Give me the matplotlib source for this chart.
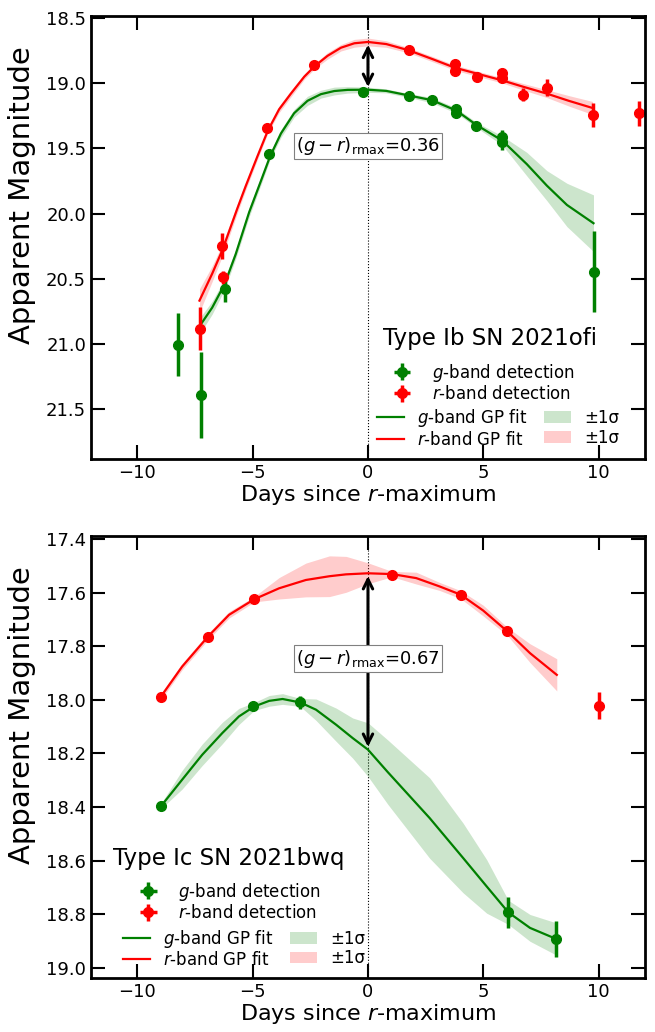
import numpy as np
import matplotlib
matplotlib.use("Agg")
import matplotlib.pyplot as plt

# ---- SN 2021ofi (Type Ib) ----
ofi_g_day = [-8.22, -7.22, -6.20, -4.28, -0.23, 1.77, 2.77, 3.83, 3.83, 4.70, 5.82, 5.82, 9.77]
ofi_g_mag = [21.003, 21.39, 20.58, 19.543, 19.064, 19.097, 19.13, 19.20, 19.225, 19.33, 19.41, 19.45, 20.443]
ofi_g_err = [0.24, 0.33, 0.10, 0.03, 0.015, 0.02, 0.02, 0.03, 0.03, 0.02, 0.05, 0.06, 0.31]

ofi_r_day = [-7.27, -6.31, -6.28, -4.36, -2.33, 1.77, 3.76, 3.76, 4.73, 5.79, 5.79, 6.70, 7.75, 9.73, 11.75]
ofi_r_mag = [20.88, 20.246, 20.486, 19.347, 18.862, 18.748, 18.85, 18.906, 18.95, 18.92, 18.957, 19.09, 19.034, 19.242, 19.232]
ofi_r_err = [0.166, 0.10, 0.05, 0.02, 0.015, 0.02, 0.03, 0.03, 0.02, 0.03, 0.025, 0.05, 0.066, 0.09, 0.095]

ofi_gfit_day = [-7.25, -6.75, -6.21, -5.73, -5.15, -4.64, -4.24, -3.77, -3.20, -2.62, -2.04, -1.46, -0.88, 0.00, 0.79, 1.77, 2.77, 3.83, 4.70, 5.82, 6.88, 7.75, 8.62, 9.77]
ofi_gfit_mag = [20.85, 20.72, 20.54, 20.31, 19.99, 19.75, 19.56, 19.385, 19.23, 19.135, 19.084, 19.06, 19.051, 19.05, 19.059, 19.094, 19.13, 19.21, 19.32, 19.44, 19.62, 19.785, 19.933, 20.073]
ofi_gfit_sig = [0.06, 0.05, 0.04, 0.035, 0.035, 0.03, 0.025, 0.03, 0.03, 0.035, 0.03, 0.03, 0.025, 0.02, 0.015, 0.015, 0.02, 0.02, 0.02, 0.035, 0.09, 0.115, 0.166, 0.217]

ofi_rfit_day = [-7.30, -6.75, -6.31, -5.66, -5.30, -4.80, -4.33, -3.85, -3.34, -2.76, -2.30, -1.75, -1.17, -0.59, 0.00, 0.79, 1.77, 2.82, 3.76, 4.73, 5.79, 6.70, 7.75, 8.70, 9.73]
ofi_rfit_mag = [20.666, 20.46, 20.28, 19.96, 19.79, 19.565, 19.36, 19.20, 19.08, 18.95, 18.868, 18.79, 18.728, 18.694, 18.684, 18.70, 18.748, 18.817, 18.881, 18.927, 18.977, 19.026, 19.08, 19.135, 19.19]
ofi_rfit_sig = [0.09, 0.06, 0.045, 0.035, 0.03, 0.025, 0.02, 0.025, 0.025, 0.02, 0.02, 0.025, 0.025, 0.03, 0.03, 0.025, 0.02, 0.02, 0.02, 0.02, 0.02, 0.025, 0.03, 0.04, 0.05]

# ---- SN 2021bwq (Type Ic) ----
bwq_g_day = [-8.97, -4.96, -2.95, 6.08, 8.15]
bwq_g_mag = [18.398, 18.025, 18.01, 18.793, 18.892]
bwq_g_err = [0.012, 0.01, 0.026, 0.059, 0.066]

bwq_r_day = [-8.97, -6.93, -4.93, 1.04, 4.02, 6.04, 9.99]
bwq_r_mag = [17.988, 17.764, 17.625, 17.534, 17.608, 17.745, 18.022]
bwq_r_err = [0.01, 0.01, 0.01, 0.01, 0.01, 0.015, 0.051]

bwq_gfit_day = [-8.95, -8.05, -7.18, -6.31, -5.59, -4.93, -4.28, -3.70, -2.93, -2.25, -1.38, -0.66, 0.00, 0.86, 2.67, 4.12, 5.14, 6.08, 7.02, 8.15]
bwq_gfit_mag = [18.395, 18.298, 18.205, 18.124, 18.062, 18.025, 18.004, 17.997, 18.01, 18.037, 18.093, 18.143, 18.186, 18.27, 18.441, 18.59, 18.696, 18.793, 18.851, 18.892]
bwq_gfit_sig = [0.01, 0.035, 0.04, 0.04, 0.03, 0.015, 0.02, 0.02, 0.015, 0.04, 0.062, 0.075, 0.10, 0.12, 0.15, 0.13, 0.10, 0.045, 0.05, 0.06]

bwq_rfit_day = [-8.97, -8.05, -6.93, -6.02, -4.93, -3.85, -2.69, -1.67, -0.95, 0.00, 1.04, 2.09, 3.10, 4.02, 4.99, 6.04, 7.02, 8.18]
bwq_rfit_mag = [17.988, 17.876, 17.764, 17.683, 17.625, 17.584, 17.553, 17.539, 17.532, 17.528, 17.531, 17.546, 17.577, 17.608, 17.667, 17.745, 17.826, 17.907]
bwq_rfit_sig = [0.012, 0.012, 0.012, 0.012, 0.01, 0.04, 0.063, 0.076, 0.067, 0.039, 0.01, 0.022, 0.015, 0.015, 0.02, 0.015, 0.035, 0.06]

gr_ofi = "0.36"
gr_bwq = "0.67"


def panel(ax, gd, gm, ge, rd, rm, re_, gfd, gfm, gfs, rfd, rfm, rfs, name, gr, text_y,
          title_xy, leg1_xy, leg2_xy, ylim, yticks):
    gfd = np.array(gfd); gfm = np.array(gfm); gfs = np.array(gfs)
    rfd = np.array(rfd); rfm = np.array(rfm); rfs = np.array(rfs)
    ax.axvline(0, color='black', ls=':', lw=0.8, zorder=1)
    fg = ax.fill_between(gfd, gfm - gfs, gfm + gfs, color='green', alpha=0.2, lw=0)
    fr = ax.fill_between(rfd, rfm - rfs, rfm + rfs, color='red', alpha=0.2, lw=0)
    lg, = ax.plot(gfd, gfm, color='green', lw=1.6)
    lr, = ax.plot(rfd, rfm, color='red', lw=1.6)
    hg = ax.errorbar(gd, gm, yerr=ge, xerr=0, fmt='o', color='green', ms=7, elinewidth=2.5, capsize=0)
    hr = ax.errorbar(rd, rm, yerr=re_, xerr=0, fmt='o', color='red', ms=7, elinewidth=2.5, capsize=0)

    # colour at r-band maximum
    r0 = rfm[rfd == 0][0]
    g0 = gfm[gfd == 0][0]
    ax.annotate('', xy=(0, g0), xytext=(0, r0),
                arrowprops=dict(arrowstyle='<->', color='black', lw=2.2, mutation_scale=17), zorder=4)
    ax.text(0, text_y, r'$(g-r)_{\rm rmax}$=' + gr, ha='center', va='center', fontsize=13,
            bbox=dict(facecolor='white', edgecolor='gray', pad=1.5, lw=0.8), zorder=6)

    ax.text(title_xy[0], title_xy[1], name, transform=ax.transAxes, fontsize=16.5, ha='left', va='center')
    leg1 = ax.legend([hg, hr], ['$g$-band detection', '$r$-band detection'],
                     fontsize=12, frameon=False, loc='upper left',
                     bbox_to_anchor=leg1_xy, labelspacing=0.1, borderpad=0.4)
    ax.add_artist(leg1)
    ax.legend([lg, lr, fg, fr], ['$g$-band GP fit', '$r$-band GP fit', '±1σ', '±1σ'], ncol=2,
              fontsize=12, frameon=False, loc='upper left', bbox_to_anchor=leg2_xy,
              labelspacing=0.1, handlelength=1.6, handletextpad=0.8, columnspacing=1.0, borderpad=0.4)

    ax.set_xlim(-12, 12)
    ax.set_ylim(*ylim)
    ax.set_xticks([-10, -5, 0, 5, 10])
    ax.set_yticks(yticks)
    ax.tick_params(direction='in', top=True, right=True, length=10, width=1.5, labelsize=13)
    for s in ax.spines.values():
        s.set_linewidth(2)
    ax.set_xlabel('Days since $r$-maximum', fontsize=16, labelpad=1)
    ax.set_ylabel('Apparent Magnitude', fontsize=21)
    ax.yaxis.set_label_coords(-0.10, 0.595)


fig = plt.figure(figsize=(6.55, 10.32), dpi=100)
ax1 = fig.add_axes([0.1389, 0.5552, 0.8458, 0.4293])
ax2 = fig.add_axes([0.1389, 0.0523, 0.8458, 0.4283])

panel(ax1, ofi_g_day, ofi_g_mag, ofi_g_err, ofi_r_day, ofi_r_mag, ofi_r_err,
      ofi_gfit_day, ofi_gfit_mag, ofi_gfit_sig, ofi_rfit_day, ofi_rfit_mag, ofi_rfit_sig,
      'Type Ib SN 2021ofi', gr_ofi, 19.483, (0.5276, 0.2725), (0.5042, 0.2538), (0.4897, 0.1512),
      (21.88, 18.485), np.arange(18.5, 21.51, 0.5))
panel(ax2, bwq_g_day, bwq_g_mag, bwq_g_err, bwq_r_day, bwq_r_mag, bwq_r_err,
      bwq_gfit_day, bwq_gfit_mag, bwq_gfit_sig, bwq_rfit_day, bwq_rfit_mag, bwq_rfit_sig,
      'Type Ic SN 2021bwq', gr_bwq, 17.846, (0.0392, 0.2715), (0.0462, 0.2543), (0.0305, 0.148),
      (19.038, 17.389), np.arange(17.4, 19.01, 0.2))

fig.savefig('out.png', dpi=100)
